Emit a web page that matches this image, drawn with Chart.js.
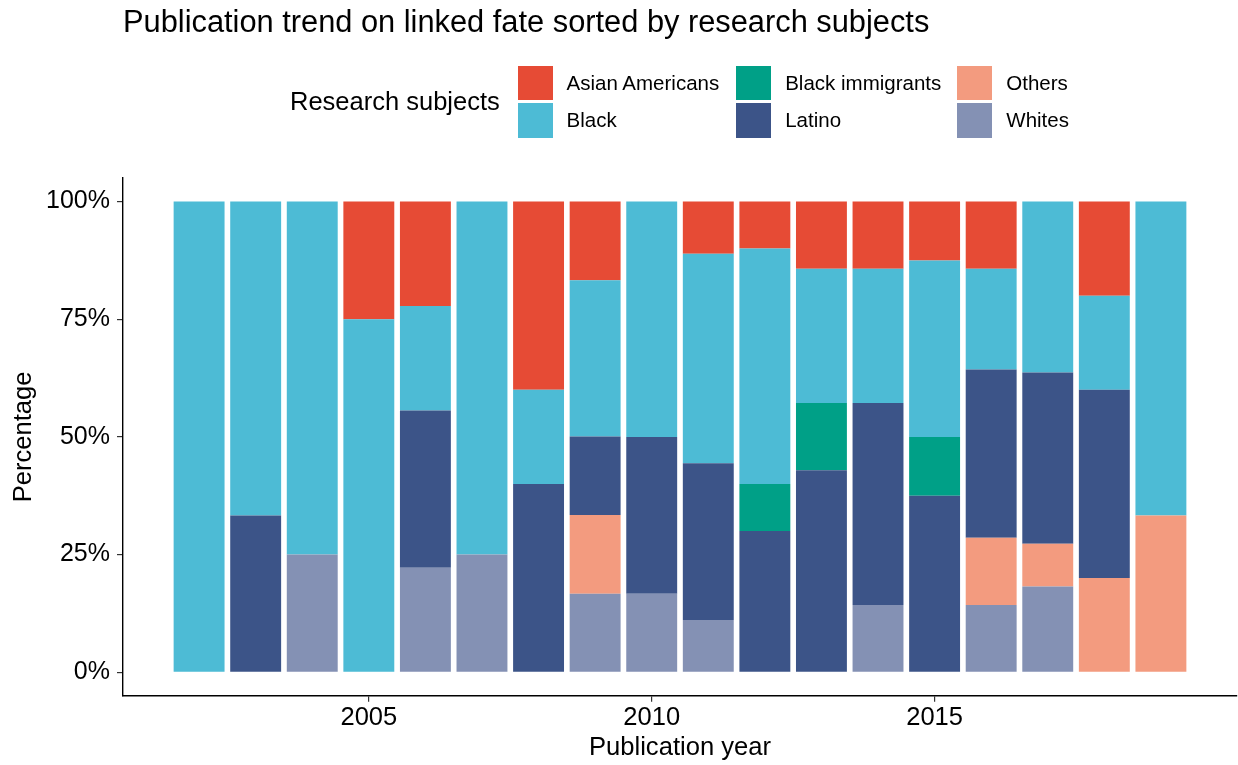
<!DOCTYPE html>
<html>
<head>
<meta charset="utf-8">
<script src="https://cdn.jsdelivr.net/npm/chart.js@4.4.1/dist/chart.umd.min.js"></script>
<style>
  body { margin: 0; background: #fff; font-family: "Liberation Sans", Arial, sans-serif; }
  #wrap { position: relative; width: 1238px; height: 765px; }
  #chart { position: absolute; left: 0; top: 0; }
  #title { position: absolute; left: 123px; top: 6px; font-size: 30.8px; line-height: 31px; color: #000; white-space: nowrap; }
  #legendTitle { position: absolute; left: 290px; top: 89px; font-size: 25.5px; line-height: 25.5px; color: #000; white-space: nowrap; }
  .key { position: absolute; width: 35px; height: 34.5px; }
  .lab { position: absolute; height: 34.5px; font-size: 20.5px; line-height: 34.5px; color: #000; white-space: nowrap; }
</style>
</head>
<body>
<div id="wrap">
  <canvas id="chart"></canvas>
  <div id="title">Publication trend on linked fate sorted by research subjects</div>
  <div id="legendTitle">Research subjects</div>
</div>
<script>
//Data (percent of publications per year)
const years = [2002, 2003, 2004, 2005, 2006, 2007, 2008, 2009, 2010, 2011, 2012, 2013, 2014, 2015, 2016, 2017, 2018, 2019];

const asianAmericans  = [0, 0, 0, 25, 22.2, 0, 40, 16.7, 0, 11.1, 10, 14.3, 14.3, 12.5, 14.3, 0, 20, 0];
const black           = [100, 66.7, 75, 75, 22.2, 75, 20, 33.2, 50, 44.5, 50, 28.5, 28.5, 37.5, 21.4, 36.3, 20, 66.7];
const blackImmigrants = [0, 0, 0, 0, 0, 0, 0, 0, 0, 0, 10, 14.3, 0, 12.5, 0, 0, 0, 0];
const latino          = [0, 33.3, 0, 0, 33.4, 0, 40, 16.7, 33.3, 33.3, 30, 42.9, 42.9, 37.5, 35.7, 36.4, 40, 0];
const others          = [0, 0, 0, 0, 0, 0, 0, 16.7, 0, 0, 0, 0, 0, 0, 14.3, 9.1, 20, 33.3];
const whites          = [0, 0, 25, 0, 22.2, 25, 0, 16.7, 16.7, 11.1, 0, 0, 14.3, 0, 14.3, 18.2, 0, 0];

//Legend order (alphabetical) and colours
const subjectNames = ['Asian Americans', 'Black', 'Black immigrants', 'Latino', 'Others', 'Whites'];
const subjectValues = [asianAmericans, black, blackImmigrants, latino, others, whites];
const subjectColors = ['#E64B35', '#4DBBD5', '#00A087', '#3C5488', '#F39B7F', '#8491B4'];

const xTicks = [2005, 2010, 2015];
const yTicks = [0, 25, 50, 75, 100];

//Build the legend (2 rows, filled by column)
const legendCols = [517.5, 736.2, 957.3];
const legendRows = [65.8, 103.2];
const wrap = document.getElementById('wrap');
subjectNames.forEach((name, i) => {
    const col = Math.floor(i / 2);
    const row = i % 2;
    const key = document.createElement('div');
    key.className = 'key';
    key.style.left = legendCols[col] + 'px';
    key.style.top = legendRows[row] + 'px';
    key.style.background = subjectColors[i];
    wrap.appendChild(key);
    const lab = document.createElement('div');
    lab.className = 'lab';
    lab.style.left = (legendCols[col] + 49) + 'px';
    lab.style.top = legendRows[row] + 'px';
    lab.textContent = name;
    wrap.appendChild(lab);
});

//Stack from the bottom: Whites, Others, Latino, Black immigrants, Black, Asian Americans
const datasets = [];
for (let i = subjectNames.length - 1; i >= 0; i--) {
    datasets.push({
        label: subjectNames[i],
        data: subjectValues[i],
        backgroundColor: subjectColors[i],
        borderWidth: 0,
        barPercentage: 0.9,
        categoryPercentage: 1
    });
}

const canvas = document.getElementById('chart');
canvas.width = 1238;
canvas.height = 765;
canvas.style.width = '1238px';
canvas.style.height = '765px';

const fontFamily = "'Liberation Sans', Arial, sans-serif";

new Chart(canvas.getContext('2d'), {
    type: 'bar',
    data: {
        labels: years,
        datasets: datasets
    },
    options: {
        responsive: false,
        animation: false,
        layout: {
            padding: { top: 178, right: 1, bottom: 0, left: 0 }
        },
        plugins: {
            legend: { display: false },
            tooltip: { enabled: false }
        },
        scales: {
            x: {
                type: 'linear',
                stacked: true,
                offset: false,
                min: 2000.655,
                max: 2020.345,
                afterBuildTicks: (axis) => { axis.ticks = xTicks.map(v => ({ value: v })); },
                afterFit: (axis) => { axis.height = 69.2; },
                grid: { offset: false, drawOnChartArea: false, drawTicks: true, tickLength: 6, color: '#333333', lineWidth: 1.2 },
                border: { display: true, color: '#000', width: 1.4 },
                ticks: {
                    font: { family: fontFamily, size: 25.5 },
                    color: '#000',
                    padding: 1,
                    maxRotation: 0,
                    callback: (v) => String(v)
                },
                title: {
                    display: true,
                    text: 'Publication year',
                    font: { family: fontFamily, size: 25.6 },
                    color: '#000',
                    padding: { top: 0, bottom: 1.6 }
                }
            },
            y: {
                type: 'linear',
                stacked: true,
                min: -5,
                max: 105,
                afterBuildTicks: (axis) => { axis.ticks = yTicks.map(v => ({ value: v })); },
                afterFit: (axis) => { axis.width = 123; },
                grid: { drawOnChartArea: false, drawTicks: true, tickLength: 6, color: '#333333', lineWidth: 1.2 },
                border: { display: true, color: '#000', width: 1.4 },
                ticks: {
                    font: { family: fontFamily, size: 25 },
                    color: '#000',
                    padding: 7,
                    callback: (v) => v + '%'
                },
                title: {
                    display: true,
                    text: 'Percentage',
                    font: { family: fontFamily, size: 25.6 },
                    color: '#000',
                    padding: { top: 8.4, bottom: 0 }
                }
            }
        }
    }
});
</script>
</body>
</html>
